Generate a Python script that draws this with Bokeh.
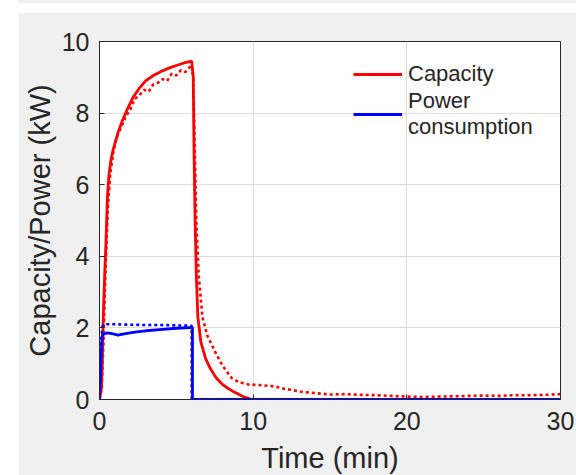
from bokeh.plotting import figure
from bokeh.models import Range1d, Legend, LegendItem, Div, FixedTicker
from bokeh.layouts import column
from bokeh.embed import file_html
from bokeh.resources import INLINE

# ---- data ----
cap_sim_t = [0, 0.12, 0.18, 0.25, 0.33, 0.42, 0.52, 0.62, 0.75, 0.9, 1.2, 1.5, 1.8, 2.2, 2.6,
             3.0, 3.5, 4.1, 4.6, 5.0, 5.5, 6.0, 6.1, 6.15, 6.22, 6.3, 6.4, 6.6, 6.9, 7.2,
             7.6, 8.0, 8.4, 8.8, 9.3, 9.9, 15, 20, 25, 30]
cap_sim = [0, 0.3, 1.0, 2.4, 3.4, 4.4, 5.7, 6.3, 6.7, 7.0, 7.45, 7.8, 8.1, 8.45, 8.7,
           8.9, 9.05, 9.18, 9.27, 9.33, 9.4, 9.45, 9.0, 7.0, 5.0, 3.5, 2.3, 1.6, 1.15, 0.87,
           0.6, 0.42, 0.3, 0.2, 0.09, 0.0, 0, 0, 0, 0]

cap_exp_t = [0, 0.15, 0.25, 0.35, 0.45, 0.55, 0.7, 0.9, 1.1, 1.4, 1.7, 2.0, 2.3, 2.6, 2.9,
             3.2, 3.5, 3.8, 4.1, 4.4, 4.7, 5.0, 5.3, 5.6, 5.9, 6.0, 6.1, 6.2, 6.3, 6.45,
             6.7, 7.0, 7.5, 8.0, 8.6, 9.1, 9.7, 10.5, 11.0, 11.5, 12.0, 12.5, 13.0, 13.5,
             14, 15, 16, 17, 18, 19, 20, 21, 22, 23, 24, 25, 26, 27, 28, 29, 30]
cap_exp = [0, 0.3, 1.5, 3.0, 4.3, 5.4, 6.3, 6.9, 7.3, 7.6, 7.9, 8.1, 8.4, 8.5, 8.65,
           8.6, 8.8, 8.85, 8.95, 8.9, 9.1, 9.05, 9.2, 9.15, 9.3, 9.35, 9.0, 7.0, 5.0, 3.5,
           2.3, 1.8, 1.35, 0.95, 0.6, 0.48, 0.42, 0.4, 0.38, 0.36, 0.3, 0.27, 0.22, 0.2,
           0.18, 0.14, 0.15, 0.13, 0.12, 0.1, 0.08, 0.07, 0.08, 0.09, 0.1, 0.11, 0.1, 0.12,
           0.12, 0.13, 0.15]

pow_sim_t = [0, 0.15, 0.2, 0.5, 0.9, 1.2, 1.6, 2.3, 3.0, 4.1, 5.0, 5.9, 6.05, 6.05, 30]
pow_sim = [0, 1.6, 1.82, 1.86, 1.83, 1.8, 1.83, 1.88, 1.92, 1.96, 1.99, 2.01, 2.01, 0, 0]

pow_exp_t = [0, 0.05, 0.1, 0.2, 0.3, 1, 2, 3, 4, 5, 6.0, 6.0, 30]
pow_exp = [0, 0.8, 1.6, 2.05, 2.1, 2.1, 2.09, 2.08, 2.08, 2.07, 2.06, 0, 0]

x_ticks = [0, 10, 20, 30]
y_ticks = [0, 2, 4, 6, 8, 10]

FONT = "Liberation Sans"
DARK = "#262626"
GRAY = "#f0f0f0"

p = figure(frame_width=461, frame_height=358,
           x_range=Range1d(0, 30), y_range=Range1d(0, 10),
           output_backend="svg", toolbar_location=None,
           min_border_left=81, min_border_right=16, min_border_top=29, min_border_bottom=76,
           margin=(9, 0, 0, 18),
           border_fill_color=GRAY, background_fill_color="white",
           outline_line_color=DARK, outline_line_width=1)

r_ce = p.line(cap_exp_t, cap_exp, color="#ff0000", line_width=2.6, line_dash="3 3")
r_cs = p.line(cap_sim_t, cap_sim, color="#ff0000", line_width=2.8)
r_pe = p.line(pow_exp_t, pow_exp, color="#0000ff", line_width=2.6, line_dash="3 3")
r_ps = p.line(pow_sim_t, pow_sim, color="#0000ff", line_width=2.8)

for ax in (p.xaxis[0], p.yaxis[0]):
    ax.axis_line_color = DARK
    ax.major_tick_line_color = DARK
    ax.major_tick_in = 5
    ax.major_tick_out = 0
    ax.minor_tick_line_color = None
    ax.major_label_text_font = FONT
    ax.major_label_text_font_size = "25px"
    ax.major_label_text_color = DARK
    ax.axis_label_text_font = FONT
    ax.axis_label_text_font_size = "29px"
    ax.axis_label_text_color = DARK
    ax.axis_label_text_font_style = "normal"

p.xaxis[0].ticker = FixedTicker(ticks=x_ticks)
p.yaxis[0].ticker = FixedTicker(ticks=y_ticks)
p.xaxis[0].axis_label = "Time (min)"
p.yaxis[0].axis_label = "Capacity/Power (kW)"
p.xaxis[0].major_label_standoff = 12
p.yaxis[0].major_label_standoff = 10
p.xaxis[0].axis_label_standoff = 9
p.yaxis[0].axis_label_standoff = 3

p.xgrid.ticker = FixedTicker(ticks=x_ticks)
p.ygrid.ticker = FixedTicker(ticks=y_ticks)
p.grid.grid_line_color = "#dcdcdc"
p.grid.grid_line_width = 1

legend = Legend(items=[LegendItem(label="Capacity", renderers=[r_cs]),
                       LegendItem(label="Power\nconsumption", renderers=[r_ps])],
                location=(254, 259), border_line_color=None, background_fill_alpha=0,
                padding=0, margin=0, spacing=0, glyph_width=49, label_standoff=6,
                label_text_font=FONT, label_text_font_size="22px", label_text_color=DARK,
                label_text_line_height=1.27, label_height=28)
p.add_layout(legend, "center")

strip = Div(text="", width=558, height=3, margin=(0, 0, 0, 18),
            styles={"background-color": GRAY})

layout = column(strip, p, spacing=0)
open("out.html", "w").write(file_html(layout, INLINE))
